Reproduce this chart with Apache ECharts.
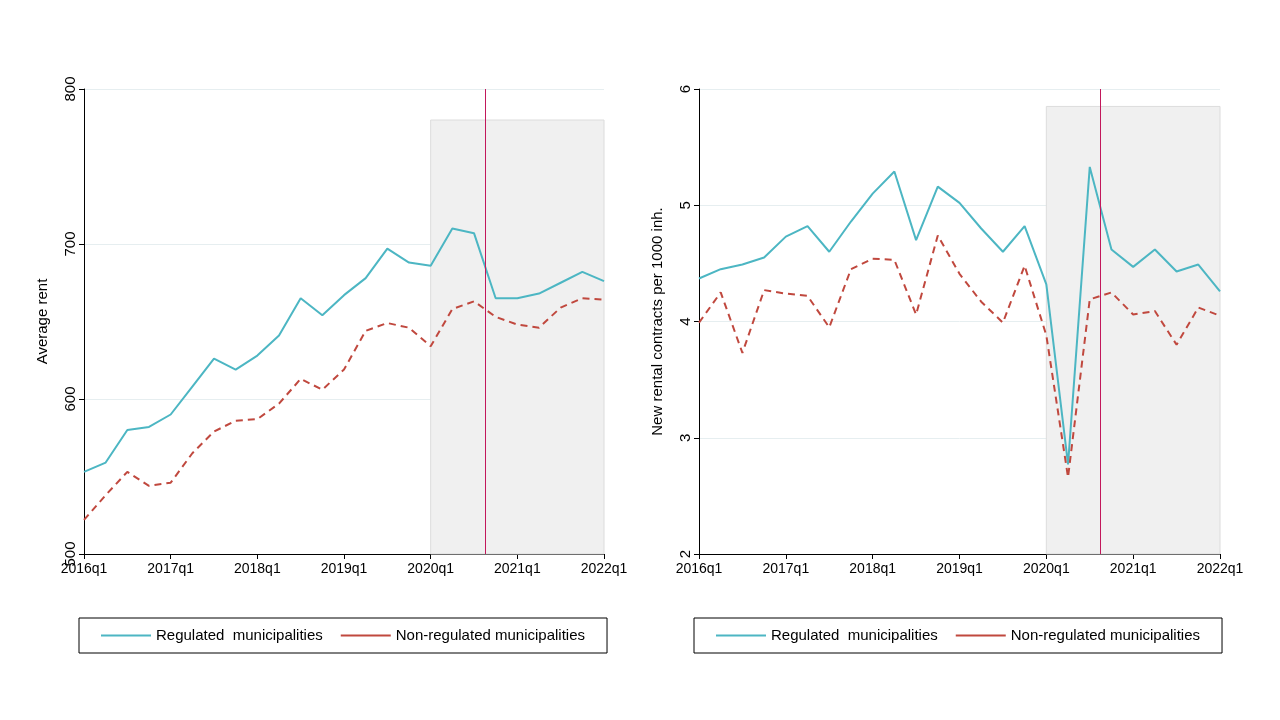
<!DOCTYPE html>
<html><head><meta charset="utf-8">
<script src="https://cdn.jsdelivr.net/npm/echarts@6/dist/echarts.min.js"></script>
<style>html,body{margin:0;background:#fff}#c{width:1280px;height:720px}</style>
</head><body><div id="c"></div>
<script>
// quarter index 0 = 2016q1 ... 24 = 2022q1
const quarters = Array.from({length: 25}, (_, i) => i);
const rentReg = [553,559,580,582,590,608,626,619,628,641,665,654,667,678,697,688,686,710,707,665,665,668,675,682,676];
const rentNon = [522,538,553,544,546,565,579,586,587,597,613,606,619,644,649,646,634,658,663,653,648,646,659,665,664];
const contReg = [4.37,4.45,4.49,4.55,4.73,4.82,4.60,4.86,5.10,5.29,4.70,5.16,5.02,4.80,4.60,4.82,4.32,2.77,5.33,4.62,4.47,4.62,4.43,4.49,4.26];
const contNon = [3.99,4.25,3.73,4.27,4.24,4.22,3.95,4.45,4.54,4.53,4.06,4.74,4.41,4.17,3.99,4.48,3.88,2.66,4.19,4.25,4.06,4.09,3.80,4.12,4.05];
const policyLine = 18.5;
const shadeLeft = [16, 24, 500, 780];
const shadeRight = [16, 24, 2, 5.85];

const font = 'Liberation Sans';
const teal = '#4cb6c3', red = '#c0483e', crimson = '#c2185b';
const pair = d => quarters.map((q, i) => [q, d[i]]);

function xAx(idx) {
  return { type: 'value', gridIndex: idx, min: 0, max: 24, interval: 4,
    axisLine: { lineStyle: { color: '#000' } }, axisTick: { lineStyle: { color: '#000' }, length: 5 },
    splitLine: { show: false },
    axisLabel: { color: '#000', fontFamily: font, fontSize: 14, formatter: v => (2016 + v / 4) + 'q1' } };
}
function yAx(idx, min, max, iv, name) {
  return { type: 'value', gridIndex: idx, min, max, interval: iv,
    name, nameLocation: 'middle', nameGap: 34, nameRotate: 90,
    nameTextStyle: { color: '#000', fontFamily: font, fontSize: 15 },
    axisLine: { show: true, lineStyle: { color: '#000' } }, axisTick: { show: true, length: 5, lineStyle: { color: '#000' } },
    splitLine: { lineStyle: { color: '#e6eef0' } },
    axisLabel: { color: '#000', fontFamily: font, fontSize: 15, rotate: 90, margin: 6 } };
}
function series(idx, reg, non, shade) {
  return [
    { name: 'Regulated  municipalities', type: 'line', xAxisIndex: idx, yAxisIndex: idx, data: pair(reg),
      symbol: 'none', lineStyle: { color: teal, width: 2 }, itemStyle: { color: teal },
      markArea: { silent: true, itemStyle: { color: '#f0f0f0', borderColor: '#dcdcdc', borderWidth: 1 },
        data: [[{ coord: [shade[0], shade[2]] }, { coord: [shade[1], shade[3]] }]] },
      markLine: { silent: true, symbol: 'none', label: { show: false },
        lineStyle: { color: crimson, type: 'solid', width: 1 }, data: [{ xAxis: policyLine }] } },
    { name: 'Non-regulated municipalities', type: 'line', xAxisIndex: idx, yAxisIndex: idx, data: pair(non),
      symbol: 'none', lineStyle: { color: red, width: 2, type: [7, 5] }, itemStyle: { color: red } }
  ];
}
function legend(left) {
  return { left, top: 618, borderColor: '#000', borderWidth: 1, padding: [10, 22, 10, 22], itemGap: 18,
    itemWidth: 50, icon: 'path://M0,0H50V2H0Z',
    textStyle: { fontFamily: font, fontSize: 15, color: '#000' } };
}

const chart = echarts.init(document.getElementById('c'));
chart.setOption({
  backgroundColor: '#fff',
  animation: false,
  grid: [
    { left: 84, right: 676, top: 89, bottom: 166 },
    { left: 699, right: 60, top: 89, bottom: 166 }
  ],
  xAxis: [xAx(0), xAx(1)],
  yAxis: [yAx(0, 500, 800, 100, 'Average rent'), yAx(1, 2, 6, 1, 'New rental contracts per 1000 inh.')],
  legend: [legend(79), legend(694)],
  series: [...series(0, rentReg, rentNon, shadeLeft), ...series(1, contReg, contNon, shadeRight)]
});
</script></body></html>
